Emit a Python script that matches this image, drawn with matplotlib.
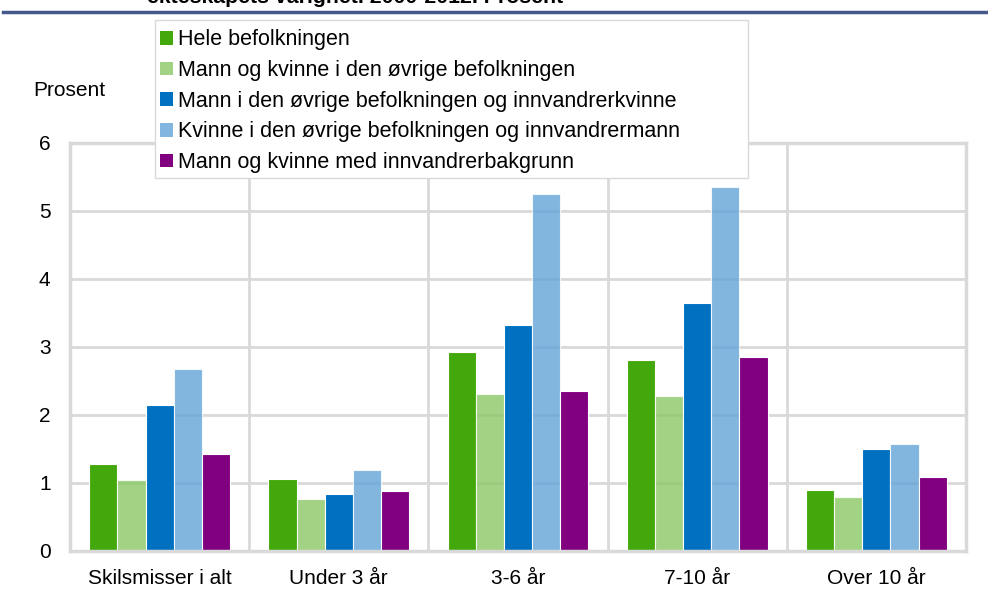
import numpy as np
import matplotlib.pyplot as plt
from matplotlib.patches import Patch, Rectangle

plt.rcParams['font.family'] = ['Liberation Sans', 'DejaVu Sans']

categories = ["Skilsmisser i alt", "Under 3 år", "3-6 år", "7-10 år", "Over 10 år"]
series_names = [
    "Hele befolkningen",
    "Mann og kvinne i den øvrige befolkningen",
    "Mann i den øvrige befolkningen og innvandrerkvinne",
    "Kvinne i den øvrige befolkningen og innvandrermann",
    "Mann og kvinne med innvandrerbakgrunn",
]
hele = [1.28, 1.06, 2.93, 2.81, 0.89]
ovrige = [1.04, 0.76, 2.31, 2.28, 0.80]
mann_innv_kvinne = [2.15, 0.84, 3.32, 3.65, 1.50]
kvinne_innv_mann = [2.68, 1.19, 5.25, 5.36, 1.57]
begge_innv = [1.43, 0.88, 2.35, 2.86, 1.09]
values = [hele, ovrige, mann_innv_kvinne, kvinne_innv_mann, begge_innv]

colors = ["#43a80b", "#8bc867", "#0070c0", "#63a4d8", "#80007f"]
alphas = [1.0, 0.8, 1.0, 0.8, 1.0]
legend_colors = ["#43a80b", "#a2d385", "#0070c0", "#82b6e0", "#80007f"]

fig = plt.figure(figsize=(9.88, 5.89), dpi=100)
ax = fig.add_axes([70 / 988, 1 - 551 / 589, 896 / 988, 408 / 589])

x = np.arange(len(categories))
w = 0.157
for i, vals in enumerate(values):
    ax.bar(x + (i - 2) * w, vals, width=w, color=colors[i], alpha=alphas[i],
           edgecolor="white", linewidth=0.8, zorder=2)

grid_col = "#d9d9d9"
ax.set_xlim(-0.5, len(categories) - 0.5)
ax.set_ylim(0, 6)
ax.set_yticks(range(7))
ax.set_xticks(x)
ax.set_xticklabels(categories)
ax.set_axisbelow(True)
ax.yaxis.grid(True, color=grid_col, linewidth=2)
for b in np.arange(0.5, len(categories) - 0.5):
    ax.axvline(b, color=grid_col, linewidth=2, zorder=1)
for s in ax.spines.values():
    s.set_color(grid_col)
    s.set_linewidth(2.5)
ax.tick_params(length=0, labelsize=15, colors="black")
ax.tick_params(axis="x", pad=13)
ax.tick_params(axis="y", pad=14)

fig.text(33 / 988, 1 - 91 / 589, "Prosent", fontsize=15, va="center", ha="left")

# legend box (wider than its text, like the original)
fig.add_artist(Rectangle((155 / 988, 1 - 178 / 589), 593 / 988, 158 / 589,
                         transform=fig.transFigure, facecolor="white",
                         edgecolor="#d9d9d9", linewidth=1, zorder=3))
handles = [Patch(facecolor=c, edgecolor="none") for c in legend_colors]
leg = fig.legend(handles, series_names, loc="upper left",
                 bbox_to_anchor=(155 / 988, 1 - 24 / 589), fontsize=15.5,
                 frameon=False,
                 handlelength=0.6, handleheight=0.6, handletextpad=0.2,
                 labelspacing=0.45, borderpad=0.25, borderaxespad=0)
leg.set_zorder(4)

# cut-off title and rule at the top
fig.text(147 / 988, 1 - 3 / 589, "ekteskapets varighet. 2000-2012. Prosent",
         fontsize=15.3, fontweight="bold", va="baseline", ha="left")
fig.add_artist(plt.Line2D([3 / 988, 1], [1 - 12 / 589, 1 - 12 / 589],
                          color="#44588a", linewidth=2.5))

fig.savefig("out.png", dpi=100)
